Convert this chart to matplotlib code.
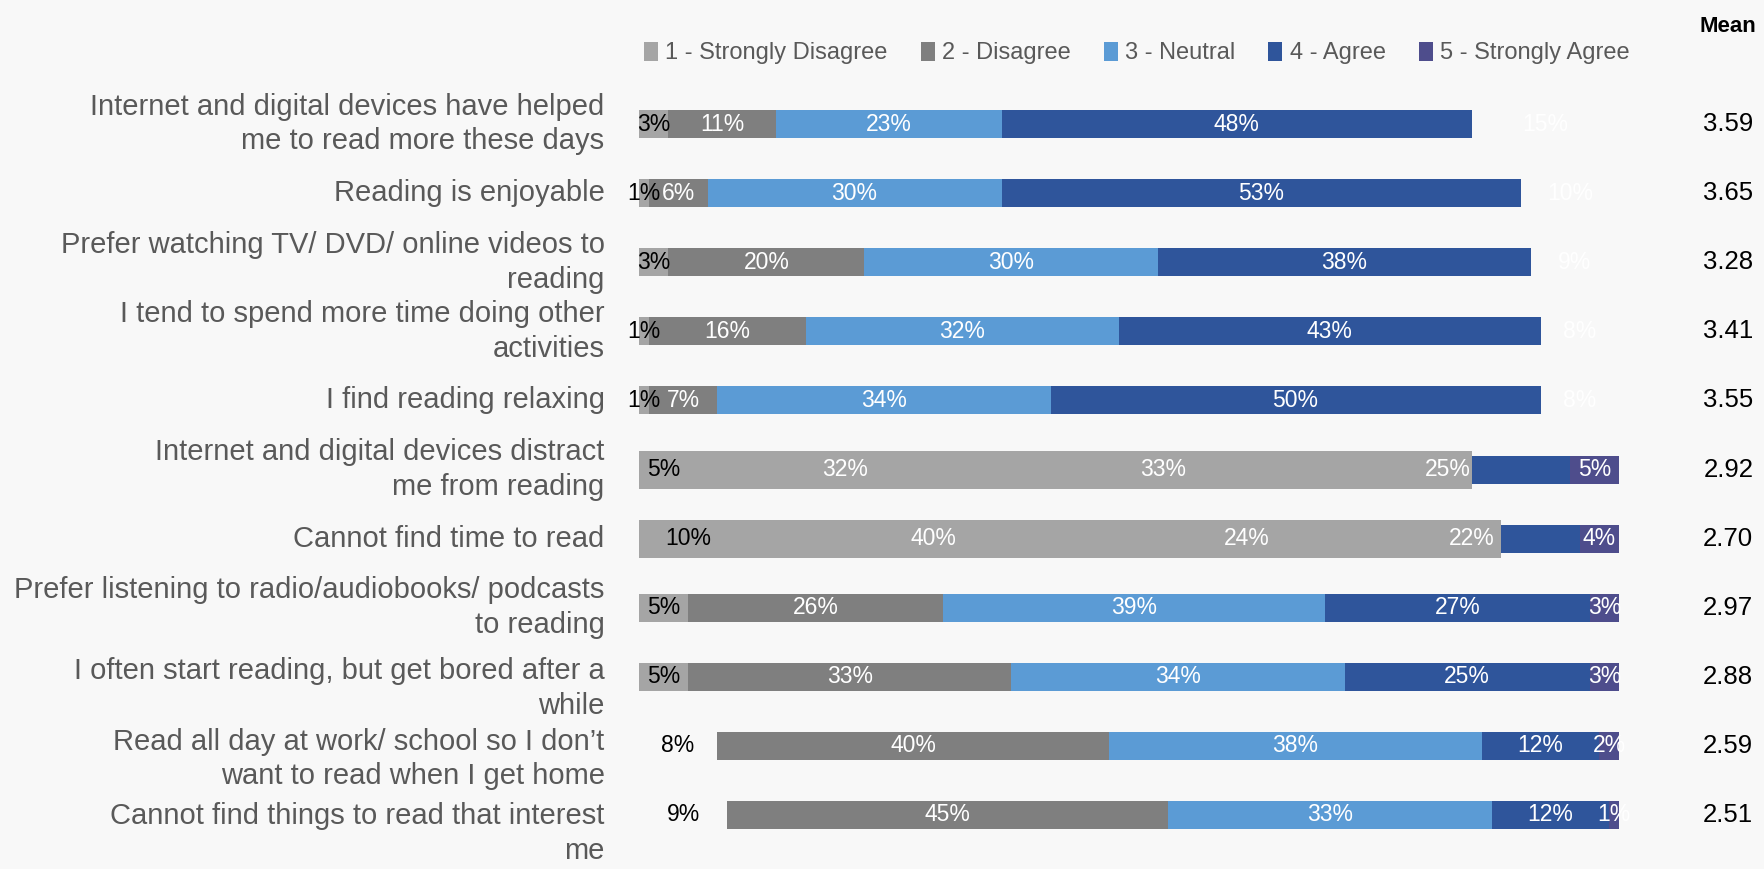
import matplotlib
matplotlib.use("Agg")
import matplotlib.pyplot as plt
import numpy as np
from matplotlib.patches import Patch

plt.rcParams['font.family'] = ['Liberation Sans', 'DejaVu Sans']

statements = [
    "Internet and digital devices have helped\nme to read more these days",
    "Reading is enjoyable",
    "Prefer watching TV/ DVD/ online videos to\nreading",
    "I tend to spend more time doing other\nactivities",
    "I find reading relaxing",
    "Internet and digital devices distract\nme from reading",
    "Cannot find time to read",
    "Prefer listening to radio/audiobooks/ podcasts\nto reading",
    "I often start reading, but get bored after a\nwhile",
    "Read all day at work/ school so I don\u2019t\nwant to read when I get home",
    "Cannot find things to read that interest\nme",
]

levels = ["1 - Strongly Disagree", "2 - Disagree", "3 - Neutral",
          "4 - Agree", "5 - Strongly Agree"]

strongly_disagree = [3, 1, 3, 1, 1, 5, 10, 5, 5, 8, 9]
disagree = [11, 6, 20, 16, 7, 32, 40, 26, 33, 40, 45]
neutral = [23, 30, 30, 32, 34, 33, 24, 39, 34, 38, 33]
agree = [48, 53, 38, 43, 50, 25, 22, 27, 25, 12, 12]
strongly_agree = [15, 10, 9, 8, 8, 5, 4, 3, 3, 2, 1]

means = [3.59, 3.65, 3.28, 3.41, 3.55, 2.92, 2.70, 2.97, 2.88, 2.59, 2.51]

# segments the source deck left unfilled (label still printed)
hidden = {4: [0, 1, 2, 3, 4], 0: [9, 10]}

# grey box laid over the two "distract / no time" rows, in % of the bar
cover_rows = [5, 6]
cover_width = [85, 88]

colors = ["#a5a5a5", "#7f7f7f", "#5b9bd5", "#2f559b", "#4e4d8c"]
bg = "#f8f8f8"

series = np.array([strongly_disagree, disagree, neutral, agree, strongly_agree])
y = np.arange(len(statements))

# the last few wrapped labels sit a little below their bars
label_shift = np.zeros(len(statements))
label_shift[8:] = [0.17, 0.19, 0.27]

fig = plt.figure(figsize=(17.64, 8.69), dpi=100, facecolor=bg)
ax = fig.add_axes([0.3622, 0.0224, 0.5556, 0.8746])
ax.set_facecolor(bg)

left = np.zeros(len(statements))
for k in range(5):
    face = [colors[k]] * len(statements)
    for i in hidden.get(k, []):
        face[i] = (0, 0, 0, 0)
    ax.barh(y, series[k], left=left, height=0.405, color=face, linewidth=0)
    left += series[k]

ax.barh(cover_rows, cover_width, left=0, height=0.55, color=colors[0],
        linewidth=0, zorder=3)

# percentage labels in the middle of each segment
left = np.zeros(len(statements))
for k in range(5):
    for i in y:
        v = series[k][i]
        ax.text(left[i] + v / 2, i, f"{v}%", ha="center", va="center",
                fontsize=16.5, color="black" if k == 0 else "white",
                zorder=4)
    left += series[k]

for i, s in enumerate(statements):
    ax.text(-0.035, i + label_shift[i], s, transform=ax.get_yaxis_transform(),
            ha="right", va="center", fontsize=21, color="#595959",
            linespacing=1.3)
    ax.text(1.137, i, f"{means[i]:.2f}", transform=ax.get_yaxis_transform(),
            ha="right", va="center", fontsize=18.5, color="black")

fig.text(1728 / 1764, 1 - 26 / 869, "Mean", ha="center", va="center",
         fontsize=16, fontweight="bold", color="black")

handles = [Patch(facecolor=c, edgecolor="none") for c in colors]
fig.legend(handles, levels, loc="center left",
           bbox_to_anchor=(644 / 1764, 1 - 53 / 869), ncol=5, frameon=False,
           fontsize=17, handlelength=0.6, handleheight=0.9,
           handletextpad=0.3, columnspacing=1.4, labelcolor="#595959",
           borderaxespad=0, borderpad=0)

ax.set_xlim(0, 100)
ax.set_ylim(len(statements) - 0.5, -0.5)
ax.axis("off")

fig.savefig("out.png", dpi=100, facecolor=bg)
